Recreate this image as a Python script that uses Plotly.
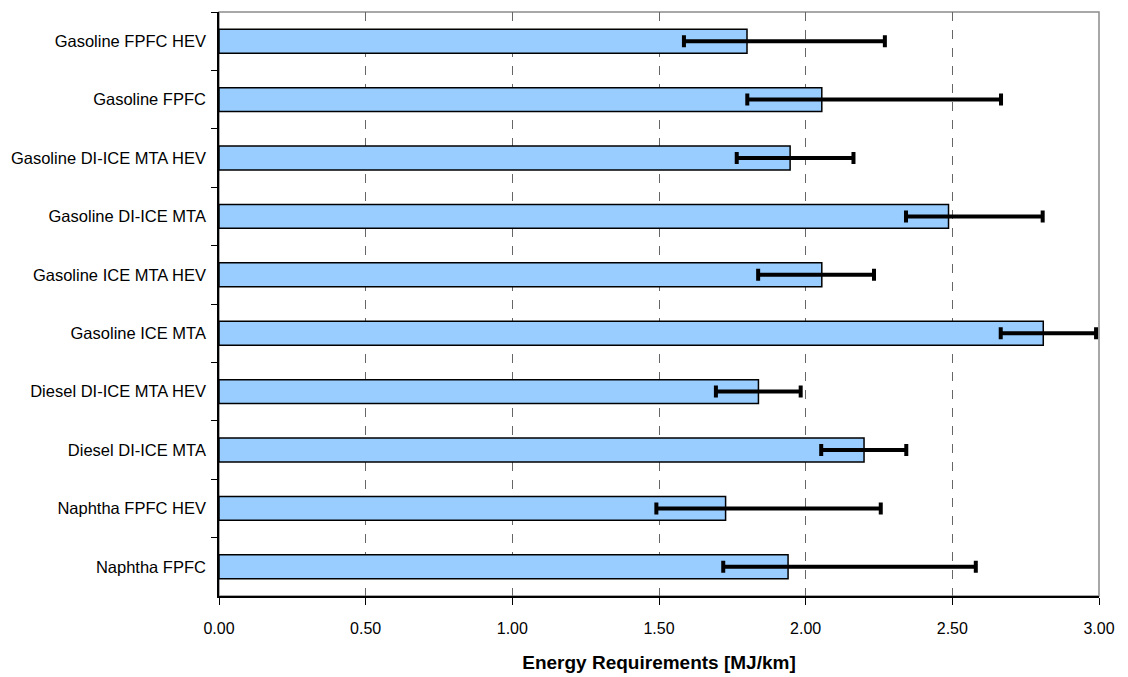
import plotly.graph_objects as go

categories = [
    "Gasoline FPFC HEV",
    "Gasoline FPFC",
    "Gasoline DI-ICE MTA HEV",
    "Gasoline DI-ICE MTA",
    "Gasoline ICE MTA HEV",
    "Gasoline ICE MTA",
    "Diesel DI-ICE MTA HEV",
    "Diesel DI-ICE MTA",
    "Naphtha FPFC HEV",
    "Naphtha FPFC",
]
energy = [1.80, 2.055, 1.947, 2.487, 2.055, 2.81, 1.839, 2.199, 1.727, 1.940]
range_low = [1.585, 1.801, 1.765, 2.342, 1.838, 2.665, 1.694, 2.053, 1.491, 1.719]
range_high = [2.270, 2.666, 2.163, 2.808, 2.233, 2.990, 1.983, 2.343, 2.256, 2.580]

x_ticks = [0, 0.5, 1.0, 1.5, 2.0, 2.5, 3.0]
x_tick_labels = ["0.00", "0.50", "1.00", "1.50", "2.00", "2.50", "3.00"]

err_plus = [h - v for h, v in zip(range_high, energy)]
err_minus = [v - l for v, l in zip(energy, range_low)]

FONT = "Arial, Liberation Sans, sans-serif"

fig = go.Figure()
fig.add_trace(go.Bar(
    x=energy,
    y=categories,
    orientation="h",
    marker=dict(color="#99CCFF", line=dict(color="#000000", width=1.5)),
    error_x=dict(
        type="data",
        symmetric=False,
        array=err_plus,
        arrayminus=err_minus,
        color="#000000",
        thickness=4,
        width=6,
    ),
    showlegend=False,
    hoverinfo="skip",
))

fig.update_layout(
    width=1120,
    height=669,
    margin=dict(l=211, r=29, t=4, b=81),
    paper_bgcolor="white",
    plot_bgcolor="white",
    bargap=0.59,
    font=dict(family=FONT, color="#000000", size=16),
    shapes=[dict(
        type="rect", xref="paper", yref="paper", x0=0, x1=1, y0=0, y1=1,
        line=dict(color="#8c8c8c", width=1.5), layer="below",
    )],
)

fig.update_xaxes(
    range=[0, 3.0],
    tickvals=x_ticks,
    ticktext=x_tick_labels,
    showgrid=True,
    gridcolor="#666666",
    griddash="dash",
    gridwidth=1,
    zeroline=False,
    showline=True,
    linecolor="#000000",
    linewidth=1.5,
    ticks="outside",
    ticklen=7,
    tickcolor="#000000",
    tickfont=dict(size=16),
    ticklabelstandoff=10,
    title=dict(text="<b>Energy Requirements [MJ/km]</b>", font=dict(size=19), standoff=20),
)

fig.update_yaxes(
    categoryorder="array",
    categoryarray=categories,
    autorange="reversed",
    showgrid=False,
    zeroline=False,
    showline=True,
    linecolor="#000000",
    linewidth=1.5,
    ticks="outside",
    tickson="boundaries",
    ticklen=6,
    tickcolor="#000000",
    tickfont=dict(size=16.5),
    ticklabelstandoff=8,
)

fig.write_html("out.html")
